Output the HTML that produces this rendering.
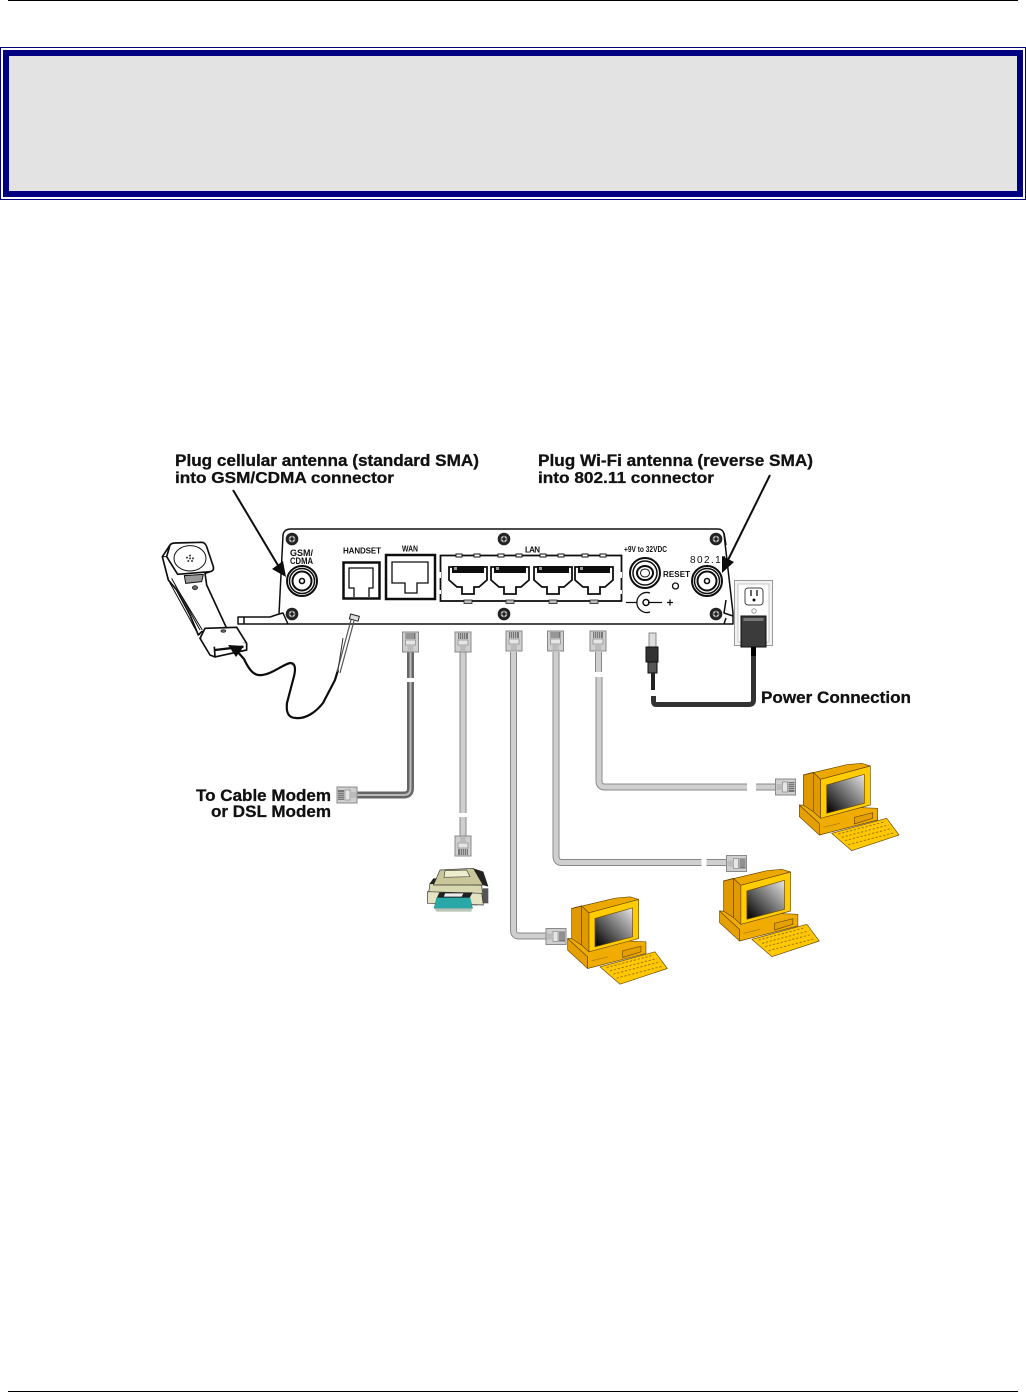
<!DOCTYPE html>
<html><head><meta charset="utf-8"><style>
html,body{margin:0;padding:0;background:#fff}
body{width:1026px;height:1392px;overflow:hidden}
svg{display:block}
text{font-family:"Liberation Sans",Arial,sans-serif}
.b{font-weight:bold;fill:#111;stroke:#111;stroke-width:.3}
</style></head><body>
<svg width="1026" height="1392" viewBox="0 0 1026 1392" xmlns="http://www.w3.org/2000/svg">
<defs>
<filter id="bl" x="-5%" y="-5%" width="110%" height="110%"><feGaussianBlur stdDeviation="0.35"/></filter>
<linearGradient id="scr" x1="0" y1="1" x2="1" y2="0"><stop offset="0.1" stop-color="#111"/><stop offset="1" stop-color="#e8e8e8"/></linearGradient>
<g id="rj">
<rect x="-8" y="-10" width="16" height="20" fill="#cfcfcf" stroke="#8a8a8a" stroke-width="1"/>
<rect x="-5" y="-9" width="10" height="6" fill="#777"/>
<path d="M-3.500-9v6M-1.500-9v6M.5-9v6M2.500-9v6" stroke="#ddd" stroke-width=".6"/>
<rect x="-5" y="-2" width="10" height="5" fill="#e6e6e6" stroke="#888" stroke-width=".7"/>
<rect x="-3" y="3" width="6" height="6" fill="#bbb"/>
</g>
<g id="scw"><circle r="6.300" fill="#222"/><circle r="3.300" fill="#bbb"/><path d="M-2.500 0H2.500M0-2.500V2.500" stroke="#111" stroke-width="1.300"/></g>
<g id="sma"><circle r="15" fill="#fff" stroke="#111" stroke-width="2"/><circle r="12.500" fill="none" stroke="#111" stroke-width="1.500"/><circle r="9.500" fill="#fff" stroke="#111" stroke-width="2"/><circle r="2.500" fill="#fff" stroke="#111" stroke-width="1.600"/></g>
<g id="jack">
<path d="M0 0H38V13L30 20H25V27H13V20H8L0 13Z" fill="#fff" stroke="#111" stroke-width="1.800"/>
<rect x="3" y="-1" width="32" height="7" fill="#111"/>
<rect x="5" y="0" width="3" height="3" fill="#999"/>
<rect x="15" y="33" width="8" height="3.500" fill="#bbb" stroke="#222" stroke-width=".8"/>
</g>
<g id="pc" transform="translate(540 740) scale(.33333)">
<g stroke="#6e4a00" stroke-width="2" stroke-linejoin="round">
<polygon points="778,195 838,250 838,285 778,230" fill="#e5a000"/>
<polygon points="778,195 1013,205 1013,240 838,285 838,250" fill="#f0ac00"/>
<polygon points="943,232 998,218 998,235 943,252" fill="#e5a000"/>
<polygon points="790,105 820,97 820,215 790,195" fill="#e09a00"/>
<polygon points="820,97 842,118 842,235 820,215" fill="#e09a00"/>
<polygon points="790,105 920,74 965,70 991,78 842,118 820,97" fill="#eda800"/>
<polygon points="842,118 991,78 991,195 842,235" fill="#ffcc00"/>
<polygon points="860,135 973,103 973,190 860,220" fill="url(#scr)"/>
<polygon points="875,280 1040,235 1077,285 935,332" fill="#ffc800"/>
</g>
<path d="M895 282L1035 245M905 292L1045 255M915 302L1055 265M925 314L1063 278" stroke="#a87800" stroke-width="3" stroke-dasharray="7 5" fill="none"/>
<path d="M850 262L900 250" stroke="#a87800" stroke-width="2"/>
</g>
</defs>

<rect x="8" y="0" width="1010" height="1" fill="#000"/>
<rect x="8" y="1391" width="1010" height="1" fill="#000"/>
<rect x="0.500" y="47.500" width="1025" height="152" fill="#fff" stroke="#000080" stroke-width="1"/>
<rect x="6" y="53" width="1014" height="141" fill="#e3e3e3" stroke="#000080" stroke-width="6"/>

<g filter="url(#bl)">
<!-- panel -->
<g fill="none" stroke="#111" stroke-width="1.500" stroke-linejoin="round">
<path d="M238 624V617H270L279 614L283 535Q284 529 291 529H718Q723 529 724 534L733 613V624H238Z" fill="#fff"/>
<path d="M279 614L283 613L288 624M724 533L726 545M726 600L724 613L733 616M724 624L726 618"/>
<path d="M244 617V624"/>
</g>
<use href="#scw" x="292" y="539"/><use href="#scw" x="292" y="614"/>
<use href="#scw" x="504" y="539"/><use href="#scw" x="504" y="614"/>
<use href="#scw" x="716" y="539"/><use href="#scw" x="716" y="614"/>
<use href="#sma" x="302" y="581"/><use href="#sma" x="707" y="581"/>
<!-- handset port -->
<rect x="343.500" y="562.500" width="36" height="36" fill="#fff" stroke="#111" stroke-width="2.500"/>
<path d="M354 597V588H349V568H373V588H369V597" fill="none" stroke="#111" stroke-width="1.300"/>
<!-- WAN -->
<rect x="386" y="555" width="49" height="44" fill="#fff" stroke="#111" stroke-width="2.500"/>
<path d="M392 562H428V583H417V593H405V583H392Z" fill="none" stroke="#111" stroke-width="1.300"/>
<!-- LAN -->
<rect x="440.500" y="555.500" width="181" height="45.500" fill="#fff" stroke="#111" stroke-width="1.800"/>
<path d="M440 572V578M440 590V594M621 572V578M621 590V594" stroke="#fff" stroke-width="2"/>
<path d="M456 554h6v3h-6zM474 554h6v3h-6zM498 554h6v3h-6zM516 554h6v3h-6zM540 554h6v3h-6zM558 554h6v3h-6zM582 554h6v3h-6zM600 554h6v3h-6z" fill="#fff" stroke="#111" stroke-width=".9"/>
<use href="#jack" x="449" y="567"/><use href="#jack" x="491" y="567"/><use href="#jack" x="534" y="567"/><use href="#jack" x="575" y="567"/>
<!-- power jack -->
<circle cx="645" cy="573" r="15" fill="#fff" stroke="#111" stroke-width="2"/>
<circle cx="645" cy="573" r="12" fill="none" stroke="#111" stroke-width="1.500"/>
<ellipse cx="645" cy="573" rx="8" ry="7" fill="#fff" stroke="#111" stroke-width="2"/>
<ellipse cx="645" cy="573" rx="4.500" ry="4" fill="none" stroke="#111" stroke-width="1"/>
<circle cx="675.500" cy="586" r="3" fill="#fff" stroke="#111" stroke-width="1.300"/>
<circle cx="646" cy="602.500" r="3" fill="#fff" stroke="#111" stroke-width="1.500"/>
<path d="M650 593A10 10 0 1 0 650 612M626 602.500H637M648 602.500H662M667 602.500H673M670 599.500V605.500" fill="none" stroke="#111" stroke-width="1.300"/>
<!-- outlet -->
<rect x="734.500" y="580.500" width="38" height="65" fill="#f3f3f3" stroke="#999" stroke-width="1"/>
<rect x="738" y="584" width="31" height="58" fill="#fff" stroke="#bbb" stroke-width=".8"/>
<rect x="745" y="588" width="18" height="17" rx="3" fill="#fff" stroke="#444" stroke-width="1"/>
<path d="M751 590V596M757 590V596" stroke="#111" stroke-width="1.300"/><circle cx="754" cy="600" r="1.500" fill="#111"/>
<circle cx="754" cy="611" r="2.200" fill="#fff" stroke="#999"/>
<rect x="741" y="616" width="25" height="31" fill="#3b3b3b" stroke="#111"/>
<rect x="743.500" y="618" width="20" height="3" fill="#777"/>
<!-- power cord -->
<path d="M753.500 647V700Q753.500 704.500 749 704.500H656Q653.500 704.500 653.500 701V696" fill="none" stroke="#333" stroke-width="5"/>
<path d="M753.500 647V656" stroke="#000" stroke-width="5"/>
<rect x="649" y="633" width="7" height="14" fill="#ddd" stroke="#888"/>
<rect x="646" y="647" width="12" height="15" fill="#333" stroke="#111"/>
<rect x="648" y="662" width="9" height="11" fill="#555" stroke="#111"/>
<rect x="651" y="673" width="4" height="17" fill="#222"/>

<!-- arrows -->
<g stroke="#111" fill="#111">
<path d="M233 490L279 567" stroke-width="2" fill="none"/><polygon points="286,577 272,569 283,561" stroke="none"/>
<path d="M770 475L727 562" stroke-width="2" fill="none"/><polygon points="722,573 722,556 734,562" stroke="none"/>
</g>

<!-- handset -->
<g transform="translate(155 535) scale(.33333)" stroke="#111" stroke-width="5" stroke-linejoin="round" fill="#fff">
<path d="M22 65L45 30Q50 24 60 24L140 22Q150 22 155 35L175 95Q178 108 165 110L150 115L155 150L215 280L140 290L130 300L105 240L65 165L40 135Z"/>
<path d="M45 30L35 65L68 118L165 110"/>
<path d="M35 65L22 65M40 135L125 290M50 130L135 285M60 150L142 285" fill="none" stroke-width="3"/>
<ellipse cx="105" cy="70" rx="48" ry="38" fill="#fff" stroke-width="3"/>
<path d="M88 122L145 118L140 140L92 145Z" fill="#999" stroke-width="3"/>
<ellipse cx="120" cy="158" rx="8" ry="6" fill="#666" stroke-width="2"/>
<path d="M150 280L245 277L275 325L178 335L135 310Z"/>
<path d="M135 310L165 360L180 366L275 345L275 325M178 335L180 366"/>
<path d="M180 345L265 335" stroke-width="7"/>
<ellipse cx="205" cy="288" rx="7" ry="4" fill="#666" stroke-width="2"/>
<g fill="#333" stroke="none"><circle cx="105" cy="62" r="3"/><circle cx="96" cy="68" r="3"/><circle cx="105" cy="70" r="3"/><circle cx="114" cy="70" r="3"/><circle cx="100" cy="78" r="3"/><circle cx="111" cy="78" r="3"/></g>
</g>
<polygon points="228,645 244,646 236,657" fill="#111"/>
<path d="M236 650L244 659C250 672 255 676 262 675C272 674 282 665 290 663C296 663 296 670 293 680L287 703C286 712 288 718 296 718C306 719 316 712 323 703L335 680L338 670" fill="none" stroke="#111" stroke-width="2.200"/>
<path d="M337 672L351 620M340 673L354 621" stroke="#555" stroke-width="1.200" fill="none"/>
<path d="M343 638L338 670" stroke="#333" stroke-width="1"/>
<rect x="350" y="615" width="9" height="5" transform="rotate(15 354 617)" fill="#ddd" stroke="#222"/>

<!-- cables -->
<g fill="none" stroke-linejoin="round">
<path d="M410.500 652V678M410.500 682V788Q410.500 795 404 795H357" stroke="#666" stroke-width="7"/>
<path d="M410.500 652V678M410.500 682V788Q410.500 795 404 795H357" stroke="#bbb" stroke-width="2"/>
<g stroke="#888" stroke-width="7">
<path d="M463 652V813M463 817V838"/>
<path d="M513.500 652V930Q513.500 936 519 936H549"/>
<path d="M556 652V856Q556 862.500 562 862.500H701.500M706.500 862.500H729"/>
<path d="M598.500 652V672M599 677V781Q599 787 605 787H747M756 787H778"/>
</g>
<g stroke="#cfcfcf" stroke-width="5">
<path d="M463 652V813M463 817V838"/>
<path d="M513.500 652V930Q513.500 936 519 936H549"/>
<path d="M556 652V856Q556 862.500 562 862.500H701.500M706.500 862.500H729"/>
<path d="M598.500 652V672M599 677V781Q599 787 605 787H747M756 787H778"/>
</g>
</g>
<use href="#rj" transform="translate(410.500 642)"/>
<use href="#rj" transform="translate(463 642)"/>
<use href="#rj" transform="translate(514 641)"/>
<use href="#rj" transform="translate(555.500 641)"/>
<use href="#rj" transform="translate(598 641)"/>
<use href="#rj" transform="translate(347 795) rotate(-90)"/>
<use href="#rj" transform="translate(463 846) rotate(180)"/>
<use href="#rj" transform="translate(556 936.500) rotate(90)"/>
<use href="#rj" transform="translate(736.500 863.500) rotate(90)"/>
<use href="#rj" transform="translate(785.500 787) rotate(90)"/>

<!-- printer -->
<g transform="translate(420 860) scale(.33333)" stroke-linejoin="round">
<polygon points="30,70 185,75 190,125 170,135 22,125" fill="#d8d8b0" stroke="#333" stroke-width="2"/>
<polygon points="60,30 160,25 190,75 40,75" fill="#c9c79a" stroke="#333" stroke-width="2"/>
<polygon points="75,32 140,30 150,50 72,52" fill="#eeeecc" stroke="#444" stroke-width="2"/>
<polygon points="160,25 190,35 205,80 188,75" fill="#222"/>
<polygon points="188,85 205,85 205,130 188,130" fill="#555"/>
<polygon points="22,95 185,100 190,135 22,130" fill="#e4e4c4" stroke="#333" stroke-width="2"/>
<polygon points="58,97 158,97 148,115 50,115" fill="#222"/>
<polygon points="75,100 130,100 125,110 72,110" fill="#eee"/>
<polygon points="50,113 150,113 158,145 42,145" fill="#2aa7a7" stroke="#0d6a6a" stroke-width="1"/>
<polygon points="45,145 155,145 155,155 48,155" fill="#b9c4b8"/>
<polygon points="40,55 50,55 42,72 28,72" fill="#222"/>
</g>

<!-- computers -->
<use href="#pc"/>
<use href="#pc" transform="translate(-79.800 106)"/>
<use href="#pc" transform="translate(-231.700 133.500)"/>
</g>

<!-- labels -->
<text class="b" x="175" y="466" font-size="17" textLength="304" lengthAdjust="spacingAndGlyphs">Plug cellular antenna (standard SMA)</text>
<text class="b" x="175" y="483" font-size="16" textLength="219" lengthAdjust="spacingAndGlyphs">into GSM/CDMA connector</text>
<text class="b" x="538" y="466" font-size="17" textLength="275" lengthAdjust="spacingAndGlyphs">Plug Wi-Fi antenna (reverse SMA)</text>
<text class="b" x="538" y="483" font-size="16" textLength="176" lengthAdjust="spacingAndGlyphs">into 802.11 connector</text>
<text class="b" x="761" y="703" font-size="17" textLength="150" lengthAdjust="spacingAndGlyphs">Power Connection</text>
<text class="b" x="196" y="801" font-size="17" textLength="135" lengthAdjust="spacingAndGlyphs">To Cable Modem</text>
<text class="b" x="211" y="817" font-size="17" textLength="120" lengthAdjust="spacingAndGlyphs">or DSL Modem</text>
<g style="font-weight:bold;fill:#111">
<text x="290" y="556" font-size="9" textLength="23" lengthAdjust="spacingAndGlyphs">GSM/</text>
<text x="290" y="564" font-size="9" textLength="23" lengthAdjust="spacingAndGlyphs">CDMA</text>
<text x="343" y="553.500" font-size="8" textLength="38" lengthAdjust="spacing">HANDSET</text>
<text x="402" y="551.500" font-size="8.500" textLength="16" lengthAdjust="spacingAndGlyphs">WAN</text>
<text x="525" y="552.500" font-size="8" textLength="15" lengthAdjust="spacing">LAN</text>
<text x="624" y="552" font-size="8" textLength="43" lengthAdjust="spacingAndGlyphs">+9V to 32VDC</text>
<text x="663" y="577" font-size="8" textLength="27" lengthAdjust="spacing">RESET</text>
<text x="690" y="563" font-size="10" textLength="37" lengthAdjust="spacing" style="font-weight:normal">802.11</text>
</g>
</svg>
</body></html>
